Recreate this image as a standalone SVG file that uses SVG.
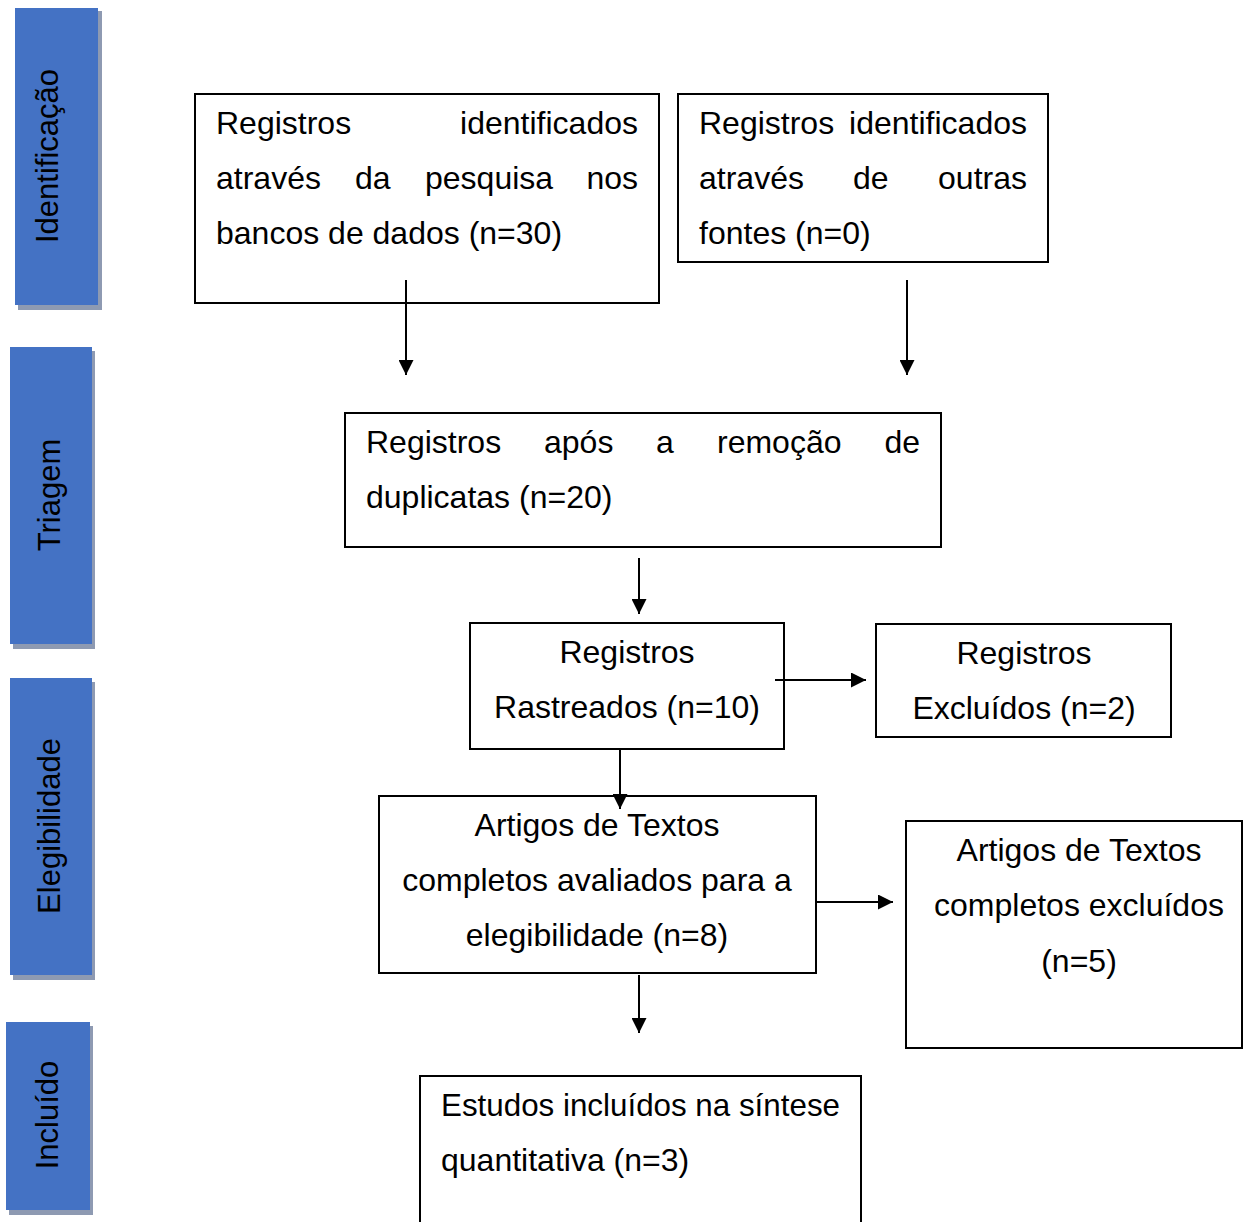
<svg xmlns="http://www.w3.org/2000/svg" width="1243" height="1222" viewBox="0 0 1243 1222">
<style>
.bar{fill:#4472C4;}
.sh{fill:#8E9AB2;}
.bt{font-family:"Liberation Sans",Arial,sans-serif;font-size:31px;fill:#000;text-anchor:middle;}
.box{fill:#fff;stroke:#000;stroke-width:2;}
.t{font-family:"Liberation Sans",Arial,sans-serif;font-size:32px;fill:#000;}
.m{text-anchor:middle;}
.e{text-anchor:end;}
.c{stroke:#000;stroke-width:2;fill:none;marker-end:url(#ah);}
</style>
<defs>
<marker id="ah" markerUnits="userSpaceOnUse" markerWidth="15" markerHeight="15" refX="15" refY="7.5" orient="auto">
<path d="M0,0 L15,7.5 L0,15 z" fill="#000"/>
</marker>
</defs>
<rect width="1243" height="1222" fill="#fff"/>
<g id="stage-identificacao">
<rect class="sh" x="18" y="11" width="84" height="299"/>
<rect class="bar" x="15" y="8" width="83" height="297"/>
<text class="bt" transform="translate(58,156) rotate(-90)">Identificação</text>
</g>
<g id="stage-triagem">
<rect class="sh" x="13" y="351" width="82" height="298"/>
<rect class="bar" x="10" y="347" width="82" height="297"/>
<text class="bt" transform="translate(60,495) rotate(-90)">Triagem</text>
</g>
<g id="stage-elegibilidade">
<rect class="sh" x="13" y="682" width="82" height="298"/>
<rect class="bar" x="10" y="678" width="82" height="297"/>
<text class="bt" transform="translate(60,826) rotate(-90)">Elegibilidade</text>
</g>
<g id="stage-incluido">
<rect class="sh" x="9" y="1026" width="84" height="189"/>
<rect class="bar" x="6" y="1022" width="84" height="188"/>
<text class="bt" transform="translate(58,1115) rotate(-90)">Incluído</text>
</g>
<g id="n1">
<rect class="box" x="195" y="94" width="464" height="209"/>
<text class="t" x="216" y="134">Registros</text>
<text class="t e" x="638" y="134">identificados</text>
<text class="t" x="216" y="189">através</text>
<text class="t" x="355" y="189">da</text>
<text class="t" x="425" y="189">pesquisa</text>
<text class="t e" x="638" y="189">nos</text>
<text class="t" x="216" y="244">bancos de dados (n=30)</text>
</g>
<g id="n2">
<rect class="box" x="678" y="94" width="370" height="168"/>
<text class="t" x="699" y="134">Registros</text>
<text class="t e" x="1027" y="134">identificados</text>
<text class="t" x="699" y="189">através</text>
<text class="t" x="853" y="189">de</text>
<text class="t e" x="1027" y="189">outras</text>
<text class="t" x="699" y="244">fontes (n=0)</text>
</g>
<g id="n3">
<rect class="box" x="345" y="413" width="596" height="134"/>
<text class="t" x="366" y="453">Registros</text>
<text class="t" x="544" y="453">após</text>
<text class="t" x="656" y="453">a</text>
<text class="t" x="717" y="453">remoção</text>
<text class="t e" x="920" y="453">de</text>
<text class="t" x="366" y="508">duplicatas (n=20)</text>
</g>
<g id="n4">
<rect class="box" x="470" y="623" width="314" height="126"/>
<text class="t m" x="627" y="663">Registros</text>
<text class="t m" x="627" y="718">Rastreados (n=10)</text>
</g>
<g id="n5">
<rect class="box" x="876" y="624" width="295" height="113"/>
<text class="t m" x="1024" y="664">Registros</text>
<text class="t m" x="1024" y="719">Excluídos (n=2)</text>
</g>
<g id="n6">
<rect class="box" x="379" y="796" width="437" height="177"/>
<text class="t m" x="597" y="836">Artigos de Textos</text>
<text class="t m" x="597" y="891">completos avaliados para a</text>
<text class="t m" x="597" y="946">elegibilidade (n=8)</text>
</g>
<g id="n7">
<rect class="box" x="906" y="821" width="336" height="227"/>
<text class="t m" x="1079" y="861">Artigos de Textos</text>
<text class="t m" x="1079" y="916">completos excluídos</text>
<text class="t m" x="1079" y="972">(n=5)</text>
</g>
<g id="n8">
<rect class="box" x="420" y="1076" width="441" height="160"/>
<text class="t" x="441" y="1116" textLength="399" lengthAdjust="spacingAndGlyphs">Estudos incluídos na síntese</text>
<text class="t" x="441" y="1171">quantitativa (n=3)</text>
</g>
<g id="connectors">
<line class="c" x1="406" y1="280" x2="406" y2="375"/>
<line class="c" x1="907" y1="280" x2="907" y2="375"/>
<line class="c" x1="639" y1="558" x2="639" y2="614"/>
<line class="c" x1="775" y1="680" x2="866" y2="680"/>
<line class="c" x1="620" y1="750" x2="620" y2="809"/>
<line class="c" x1="816" y1="902" x2="893" y2="902"/>
<line class="c" x1="639" y1="975" x2="639" y2="1033"/>
</g>
</svg>
